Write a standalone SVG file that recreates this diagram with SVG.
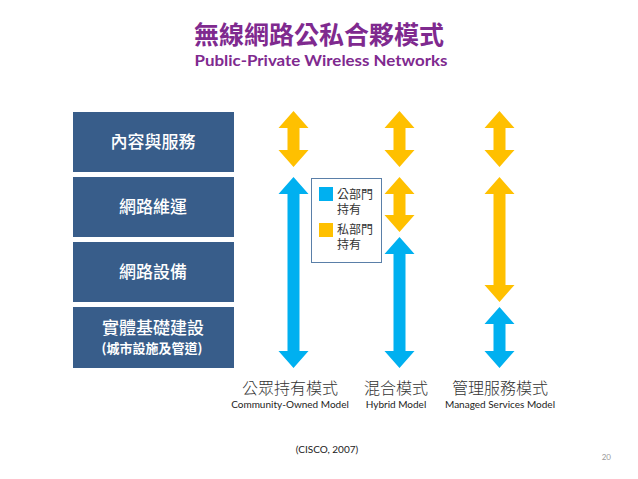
<svg xmlns="http://www.w3.org/2000/svg" width="638" height="479" viewBox="0 0 638 479">
<style>
.layer{fill:#385D8A}
.lt{fill:#fff;font-family:"Noto Sans CJK TC","Noto Sans CJK SC",sans-serif;font-weight:500;font-size:17px;text-anchor:middle}
.lts{fill:#fff;font-family:"Noto Sans CJK TC","Noto Sans CJK SC",sans-serif;font-weight:bold;font-size:13px;text-anchor:middle}
.pub{fill:#00B0F0}
.pri{fill:#FFC000}
.cjk{font-family:"Noto Sans CJK TC","Noto Sans CJK SC",sans-serif}
.lab{fill:#333;font-size:16px;text-anchor:middle;font-weight:300}
.en{fill:#222;font-family:Lato,"Liberation Sans",sans-serif;font-size:10px;text-anchor:middle}
.leg{fill:#333;font-size:12px}
</style>
<rect width="638" height="479" fill="#fff"/>
<g id="title">
<text x="319" y="44" text-anchor="middle" class="cjk" font-size="25" font-weight="bold" fill="#7F2A8F">無線網路公私合夥模式</text>
<text x="321" y="66" text-anchor="middle" font-family="Lato,'Liberation Sans',sans-serif" font-size="16" font-weight="bold" fill="#7F2A8F" textLength="253" lengthAdjust="spacingAndGlyphs">Public-Private Wireless Networks</text>
</g>
<g id="layer-content">
<rect class="layer" x="73" y="112" width="161" height="60"/>
<text class="lt" x="153" y="148">內容與服務</text>
</g>
<g id="layer-operation">
<rect class="layer" x="73" y="177" width="161" height="60"/>
<text class="lt" x="153" y="213">網路維運</text>
</g>
<g id="layer-equipment">
<rect class="layer" x="73" y="242" width="161" height="60"/>
<text class="lt" x="153" y="278">網路設備</text>
</g>
<g id="layer-infra">
<rect class="layer" x="73" y="307" width="161" height="61"/>
<text class="lt" x="153" y="334">實體基礎建設</text>
<text class="lts" x="152" y="353">(城市設施及管道)</text>
</g>
<g id="legend">
<rect x="311.5" y="178.5" width="70" height="84" fill="#fff" stroke="#5A7FA8" stroke-width="1"/>
<rect class="pub" x="319" y="187" width="14" height="14"/>
<text class="cjk leg" x="337" y="199">公部門</text>
<text class="cjk leg" x="337" y="214">持有</text>
<rect class="pri" x="319" y="223" width="14" height="14"/>
<text class="cjk leg" x="337" y="234">私部門</text>
<text class="cjk leg" x="337" y="249">持有</text>
</g>
<g id="arrows">
<path class="pri" d="M293.5,111 L308.5,128 L299.5,128 L299.5,150 L308.5,150 L293.5,167 L278.5,150 L287.5,150 L287.5,128 L278.5,128 Z"/>
<path class="pub" d="M293.5,177 L308.5,194 L299.5,194 L299.5,351 L308.5,351 L293.5,368 L278.5,351 L287.5,351 L287.5,194 L278.5,194 Z"/>
<path class="pri" d="M399.5,111 L414.5,128 L405.5,128 L405.5,150 L414.5,150 L399.5,167 L384.5,150 L393.5,150 L393.5,128 L384.5,128 Z"/>
<path class="pri" d="M399.5,177 L414.5,194 L405.5,194 L405.5,215 L414.5,215 L399.5,232 L384.5,215 L393.5,215 L393.5,194 L384.5,194 Z"/>
<path class="pub" d="M399.5,237 L414.5,254 L405.5,254 L405.5,351 L414.5,351 L399.5,368 L384.5,351 L393.5,351 L393.5,254 L384.5,254 Z"/>
<path class="pri" d="M499.5,111 L514.5,128 L505.5,128 L505.5,150 L514.5,150 L499.5,167 L484.5,150 L493.5,150 L493.5,128 L484.5,128 Z"/>
<path class="pri" d="M499.5,177 L514.5,194 L505.5,194 L505.5,285 L514.5,285 L499.5,302 L484.5,285 L493.5,285 L493.5,194 L484.5,194 Z"/>
<path class="pub" d="M499.5,307 L514.5,324 L505.5,324 L505.5,351 L514.5,351 L499.5,368 L484.5,351 L493.5,351 L493.5,324 L484.5,324 Z"/>
</g>
<g id="model-community">
<text class="cjk lab" x="290" y="394">公眾持有模式</text>
<text class="en" x="290" y="408">Community-Owned Model</text>
</g>
<g id="model-hybrid">
<text class="cjk lab" x="396" y="394">混合模式</text>
<text class="en" x="396" y="408">Hybrid Model</text>
</g>
<g id="model-managed">
<text class="cjk lab" x="500" y="394">管理服務模式</text>
<text class="en" x="500" y="408">Managed Services Model</text>
</g>
<text class="en" x="327" y="453">(CISCO, 2007)</text>
<text x="611" y="460" text-anchor="end" font-family="Lato,'Liberation Sans',sans-serif" font-size="8" fill="#999">20</text>
</svg>
